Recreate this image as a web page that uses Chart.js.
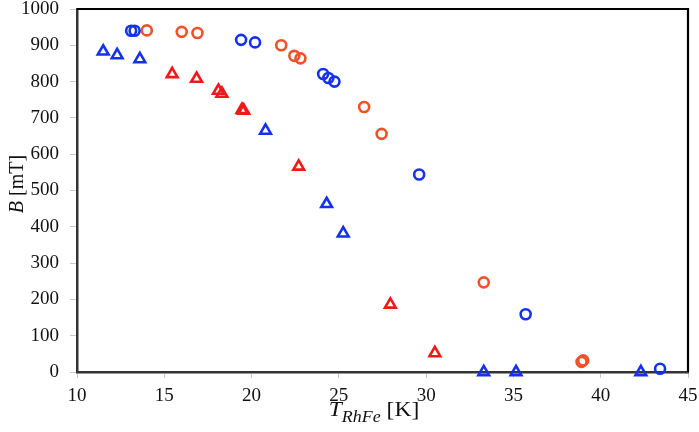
<!DOCTYPE html>
<html>
<head>
<meta charset="utf-8">
<script src="https://cdn.jsdelivr.net/npm/chart.js@4/dist/chart.umd.min.js"></script>
<style>
  html, body { margin: 0; padding: 0; background: #fff; }
  #wrap { width: 699px; height: 432px; position: relative; }
</style>
</head>
<body>
<div id="wrap"><canvas id="c" width="699" height="432"></canvas></div>
<script>
// ---- data ----
const xTicks = [10, 15, 20, 25, 30, 35, 40, 45];
const yTicks = [0, 100, 200, 300, 400, 500, 600, 700, 800, 900, 1000];

const blueCircX = [13.1, 13.3, 19.4, 20.2, 24.1, 24.4, 24.75, 29.6, 35.7, 43.4];
const blueCircY = [940, 940, 915, 908, 821, 810, 800, 544, 159, 9];

const orangeCircX = [14.0, 16.0, 16.9, 21.7, 22.45, 22.8, 26.45, 27.45, 33.3, 38.9, 39.0];
const orangeCircY = [941, 937, 934, 900, 871, 864, 730, 656, 247, 28, 32];

const blueTriX = [11.5, 12.3, 13.6, 20.8, 24.3, 25.25, 33.3, 35.15, 42.3];
const blueTriY = [883, 873, 862, 665, 463, 382, 0, 0, 0];

const redTriX = [15.45, 16.85, 18.1, 18.3, 19.45, 19.55, 22.7, 27.95, 30.5];
const redTriY = [821, 808, 775, 767, 722, 720, 566, 186, 52];

const BLUE = '#1432ee';
const ORANGE = '#f0502a';
const RED = '#ee1a1a';

function pts(xs, ys) { return xs.map((x, i) => ({ x: x, y: ys[i] })); }

function ds(label, xs, ys, color, style, r) {
  return {
    label: label,
    data: pts(xs, ys),
    showLine: false,
    pointStyle: style,
    pointRadius: r,
    pointHoverRadius: r,
    pointBorderWidth: 2.6,
    pointBackgroundColor: 'rgba(0,0,0,0)',
    pointBorderColor: color,
    clip: false
  };
}

const framePlugin = {
  id: 'frame',
  beforeDatasetsDraw(chart) {
    const a = chart.chartArea, ctx = chart.ctx;
    ctx.save();
    ctx.strokeStyle = '#000';
    ctx.lineWidth = 2.2;
    ctx.beginPath();
    ctx.moveTo(a.left, a.top);
    ctx.lineTo(a.right, a.top);
    ctx.lineTo(a.right, a.bottom);
    ctx.stroke();
    ctx.restore();
  },
  afterDraw(chart) {
    const ctx = chart.ctx;
    ctx.save();
    ctx.fillStyle = '#111';
    // x-axis title: T_RhFe [K]
    const f1 = 'italic 21px "Liberation Serif"';
    const f2 = 'italic 16px "Liberation Serif"';
    const f3 = '21px "Liberation Serif"';
    ctx.font = f1; const wT = ctx.measureText('T').width;
    ctx.font = f2; const wS = ctx.measureText('RhFe').width;
    ctx.font = f3; const wK = ctx.measureText(' [K]').width;
    const total = (wT + wS + wK) * 1.12;
    ctx.translate(374 - total / 2, 416);
    ctx.scale(1.12, 1);
    let x = 0;
    ctx.textBaseline = 'alphabetic';
    ctx.textAlign = 'left';
    ctx.font = f1; ctx.fillText('T', x, 0); x += wT;
    ctx.font = f2; ctx.fillText('RhFe', x, 6); x += wS;
    ctx.font = f3; ctx.fillText(' [K]', x, 0);
    ctx.restore();
    // y-axis title: B [mT]
    ctx.save();
    ctx.fillStyle = '#111';
    ctx.translate(23, 184);
    ctx.rotate(-Math.PI / 2);
    ctx.font = 'italic 20px "Liberation Serif"'; const wB = ctx.measureText('B').width;
    ctx.font = '20px "Liberation Serif"'; const wM = ctx.measureText(' [mT]').width;
    let y0 = -(wB + wM) / 2;
    ctx.font = 'italic 20px "Liberation Serif"'; ctx.fillText('B', y0, 0);
    ctx.font = '20px "Liberation Serif"'; ctx.fillText(' [mT]', y0 + wB, 0);
    ctx.restore();
  }
};

new Chart(document.getElementById('c'), {
  type: 'scatter',
  data: {
    datasets: [
      ds('blue triangles', blueTriX, blueTriY, BLUE, 'triangle', 6.2),
      ds('red triangles', redTriX, redTriY, RED, 'triangle', 6.2),
      ds('blue circles', blueCircX, blueCircY, BLUE, 'circle', 5),
      ds('orange circles', orangeCircX, orangeCircY, ORANGE, 'circle', 5)
    ]
  },
  options: {
    responsive: false,
    animation: false,
    devicePixelRatio: 1,
    layout: { padding: { top: 9, right: 11, left: 0, bottom: 0 } },
    plugins: { legend: { display: false }, tooltip: { enabled: false } },
    scales: {
      x: {
        type: 'linear',
        min: 10, max: 45,
        afterBuildTicks(s) { s.ticks = xTicks.map(v => ({ value: v })); },
        afterFit(s) { s.height = 60; s.paddingLeft = 0; s.paddingRight = 0; },
        ticks: { font: { family: 'Liberation Serif', size: 19 }, color: '#111', padding: 7, maxRotation: 0,
                 callback: v => String(v) },
        grid: { drawOnChartArea: false, drawTicks: true, tickLength: 6, color: '#c8c8c8' },
        border: { color: '#333', width: 2.5 }
      },
      y: {
        type: 'linear',
        min: 0, max: 1000,
        afterBuildTicks(s) { s.ticks = yTicks.map(v => ({ value: v })); },
        afterFit(s) { s.width = 77; s.paddingTop = 0; s.paddingBottom = 0; },
        ticks: { font: { family: 'Liberation Serif', size: 19 }, color: '#111', padding: 11,
                 callback: v => String(v) },
        grid: { drawOnChartArea: false, drawTicks: true, tickLength: 7, color: '#c8c8c8' },
        border: { color: '#333', width: 2.5 }
      }
    }
  },
  plugins: [framePlugin]
});
</script>
</body>
</html>
